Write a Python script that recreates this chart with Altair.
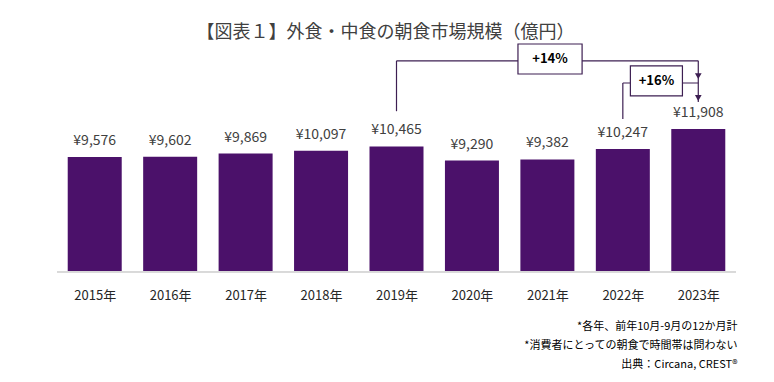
import altair as alt
import pandas as pd

# ---- data ----
years = ["2015年", "2016年", "2017年", "2018年", "2019年", "2020年", "2021年", "2022年", "2023年"]
values = [9576, 9602, 9869, 10097, 10465, 9290, 9382, 10247, 11908]
value_labels = ["¥{:,}".format(v) for v in values]

# growth annotation brackets (x in category index, y in 億円 units)
seg_x = [4, 4, 8, 7, 7]
seg_y = [13400, 17600, 17600, 12750, 15750]
seg_x2 = [4, 8, 8, 7, 8]
seg_y2 = [17600, 17600, 14170, 15750, 15750]

arrow_x = [8, 8]
arrow_y = [16330, 14500]

box_labels = ["+14%", "+16%"]
box_x = [5.61, 7.10]
box_x2 = [6.46, 7.79]
box_y = [19000, 17170]
box_y2 = [16500, 14670]

notes = ["*各年、前年10月-9月の12か月計", "*消費者にとっての朝食で時間帯は問わない", "出典：Circana, CREST®"]
note_y = [-4583, -6167, -7750]
note_x = 8.52

FONT = "Noto Sans CJK JP"
BAR = "#4B116A"
LINE = "#3D1F52"

bars_df = pd.DataFrame({"i": list(range(len(years))), "year": years, "value": values, "label": value_labels})
seg_df = pd.DataFrame({"x": seg_x, "y": seg_y, "x2": seg_x2, "y2": seg_y2})
arrow_df = pd.DataFrame({"x": arrow_x, "y": arrow_y})
box_df = pd.DataFrame({"label": box_labels, "x": box_x, "x2": box_x2, "y": box_y, "y2": box_y2})
box_df["xc"] = (box_df["x"] + box_df["x2"]) / 2
box_df["yc"] = (box_df["y"] + box_df["y2"]) / 2
notes_df = pd.DataFrame({"text": notes, "y": note_y, "x": [note_x] * len(notes)})

label_expr = "[" + ",".join("'" + y + "'" for y in years) + "][datum.value]"

xscale = alt.Scale(domain=[-0.5, 8.5], nice=False, zero=False, padding=0)
yscale = alt.Scale(domain=[0, 19000], nice=False, zero=False, padding=0)

x_axis = alt.Axis(values=list(range(len(years))), labelExpr=label_expr, title=None, ticks=False,
                  domain=False, grid=False, labelFont=FONT, labelFontSize=13, labelColor="#262626",
                  labelPadding=17)

base_bars = alt.Chart(bars_df)

bars = base_bars.mark_bar(color=BAR, size=54).encode(
    x=alt.X("i:Q", scale=xscale, axis=x_axis),
    y=alt.Y("value:Q", scale=yscale, axis=None),
)

bar_text = base_bars.mark_text(font=FONT, fontSize=14, color="#404040", dy=-9, baseline="bottom").encode(
    x=alt.X("i:Q"),
    y=alt.Y("value:Q"),
    text="label:N",
)

baseline = alt.Chart(bars_df).mark_rule(color="#D9D9D9", strokeWidth=1).encode(
    y=alt.datum(0)
)

segs = alt.Chart(seg_df).mark_rule(color=LINE, strokeWidth=1.2).encode(
    x=alt.X("x:Q"), y=alt.Y("y:Q"), x2="x2:Q", y2="y2:Q"
)

arrows = alt.Chart(arrow_df).mark_point(shape="triangle-down", filled=True, color=LINE, size=45, opacity=1).encode(
    x=alt.X("x:Q"), y=alt.Y("y:Q")
)

boxes = alt.Chart(box_df).mark_rect(fill="white", stroke=LINE, strokeWidth=1.2).encode(
    x=alt.X("x:Q"), x2="x2:Q", y=alt.Y("y:Q"), y2="y2:Q"
)

box_text = alt.Chart(box_df).mark_text(font=FONT, fontSize=13, fontWeight="bold", color="#000000").encode(
    x=alt.X("xc:Q"), y=alt.Y("yc:Q"), text="label:N"
)

note_text = alt.Chart(notes_df).mark_text(font=FONT, fontSize=11, color="#000000", align="right").encode(
    x=alt.X("x:Q"), y=alt.Y("y:Q"), text="text:N"
)

chart = alt.layer(bars, baseline, bar_text, segs, arrows, boxes, box_text, note_text).properties(
    width=679,
    height=228,
    title=alt.TitleParams(
        "【図表１】外食・中食の朝食市場規模（億円）",
        font=FONT, fontSize=18, fontWeight="normal", color="#404040",
        anchor="middle", dx=-11, offset=1,
    ),
    autosize=alt.AutoSizeParams(type="none"),
    padding={"left": 49, "top": 36, "right": 22, "bottom": 100},
    background="white",
).configure_view(stroke=None)

chart.save("out.html", embed_options={"renderer": "svg", "actions": False})
